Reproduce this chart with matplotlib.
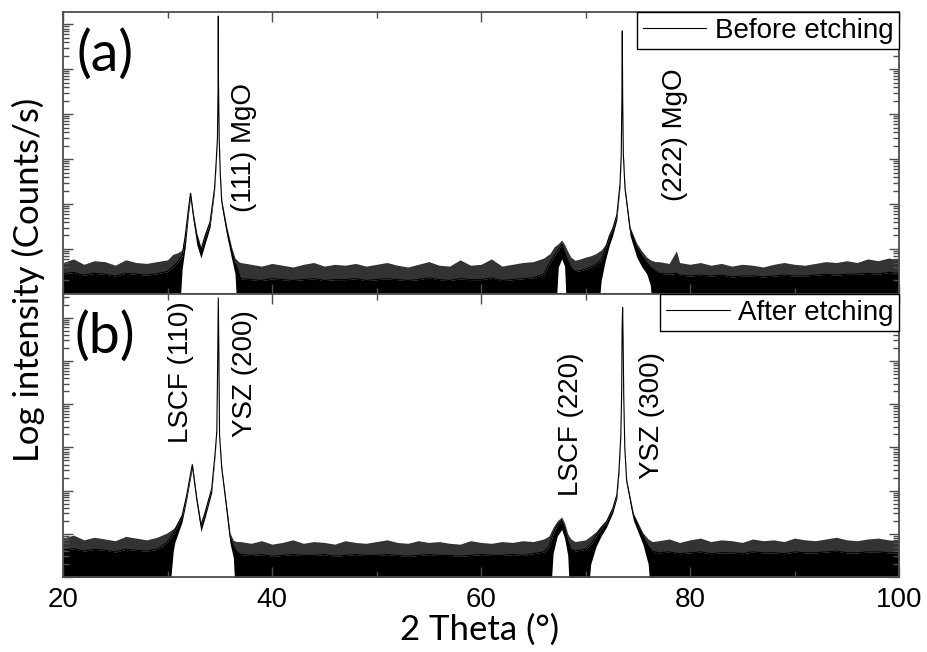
import numpy as np
import matplotlib
matplotlib.use("Agg")
import matplotlib.pyplot as plt
from matplotlib.ticker import MultipleLocator, LogLocator, NullFormatter

# values are log10(counts/s); -1 means the trace drops below the axis
# panel (a): before etching
theta_a = [20, 21, 22, 23, 24, 25, 26, 27, 28, 29, 30,
           30.5, 31.0, 31.4, 31.7, 32.0, 32.2, 32.47, 32.8, 33.2, 33.6, 34.07, 34.5,
           34.66, 34.78, 34.84, 34.86, 34.88, 34.95, 35.05, 35.19, 35.67, 36.14, 36.46, 36.8,
           37, 38, 39, 40, 41, 42, 43, 44, 45, 46, 47, 48, 49, 50, 51,
           52, 53, 54, 55, 56, 57, 58, 59, 60, 61, 62, 63, 64, 65, 66,
           66.6, 67.0, 67.4, 67.72, 68.0, 68.3, 68.6, 69, 69.5, 70, 70.5, 71.0, 71.5, 71.9, 72.3,
           72.6, 73.0, 73.3, 73.42, 73.48, 73.52, 73.56, 73.62, 73.78, 74.26, 74.9, 75.4, 75.86, 76.2, 76.65,
           77, 78, 78.7, 79, 80, 81, 82, 83, 84, 85, 86, 87, 88, 89, 90,
           91, 92, 93, 94, 95, 96, 97, 98, 99, 100]
upper_a = [.70, .78, .66, .74, .72, .64, .76, .70, .68, .72, .76,
           .88, .92, .98, 1.36, 1.93, 2.27, 1.80, 1.36, 1.05, 1.36, 1.64, 2.38,
           2.98, 3.50, 4.60, 6.20, 4.70, 3.45, 2.70, 2.09, 1.49, 1.04, .80, .72,
           .70, .66, .62, .68, .64, .60, .66, .70, .62, .66, .64, .68, .62, .66, .70,
           .64, .60, .66, .72, .64, .62, .76, .64, .66, .78, .62, .66, .70, .72, .80,
           .90, 1.05, 1.12, 1.20, 1.10, .95, .82, .75, .78, .82, .85, .90, .98, 1.10, 1.36,
           1.50, 1.80, 2.47, 3.13, 4.30, 5.87, 4.30, 3.13, 2.38, 1.49, 1.13, .95, .82, .76, .72,
           .72, .68, .96, .70, .66, .70, .64, .68, .62, .66, .64, .60, .66, .70, .66,
           .64, .68, .72, .70, .74, .70, .78, .74, .80, .76]
core_a = [.45, .48, .42, .46, .44, .40, .46, .44, .42, .45, .50,
          .60, .72, .85, 1.30, 1.88, 2.24, 1.76, 1.30, .98, 1.30, 1.60, 2.35,
          2.95, 3.48, 4.58, 6.18, 4.68, 3.42, 2.66, 2.05, 1.44, .96, .70, .50,
          .34, .32, .30, .34, .32, .30, .32, .34, .30, .32, .32, .34, .30, .32, .34,
          .32, .30, .32, .36, .32, .30, .34, .32, .32, .36, .30, .32, .34, .36, .44,
          .70, .85, .98, 1.10, .95, .75, .60, .50, .52, .55, .60, .66, .76, 1.00, 1.30,
          1.45, 1.76, 2.44, 3.10, 4.28, 5.85, 4.28, 3.10, 2.35, 1.45, 1.05, .85, .70, .60, .52,
          .46, .44, .46, .42, .40, .42, .40, .42, .38, .40, .40, .38, .40, .42, .40,
          .40, .42, .44, .42, .44, .44, .46, .44, .48, .46]
lower_a = [-1, -1, -1, -1, -1, -1, -1, -1, -1, -1, -1,
           -1, -1, .55, 1.05, 1.75, 2.15, 1.62, 1.10, .80, 1.12, 1.48, 2.28,
           2.90, 3.44, 4.55, 6.15, 4.65, 3.38, 2.60, 1.95, 1.30, .78, .45, -1,
           -1, -1, -1, -1, -1, -1, -1, -1, -1, -1, -1, -1, -1, -1, -1,
           -1, -1, -1, -1, -1, -1, -1, -1, -1, -1, -1, -1, -1, -1, -1,
           -1, -1, .60, .78, .62, -1, -1, -1, -1, -1, -1, -1, .30, .75, 1.10,
           1.30, 1.65, 2.38, 3.05, 4.25, 5.82, 4.25, 3.05, 2.25, 1.30, .82, .60, .45, .20, -1,
           -1, -1, -1, -1, -1, -1, -1, -1, -1, -1, -1, -1, -1, -1, -1,
           -1, -1, -1, -1, -1, -1, -1, -1, -1, -1]

# panel (b): after etching
theta_b = [20, 21, 22, 23, 24, 25, 26, 27, 28, 29,
           29.95, 30.55, 30.7, 31.4, 31.84, 32.37, 32.8, 33.2, 33.6, 34.23, 34.55,
           34.72, 34.8, 34.86, 34.92, 34.98, 35.19, 35.67, 35.98, 36.3, 36.6,
           37, 38, 39, 40, 41, 42, 43, 44, 45, 46, 47, 48, 49, 50, 51,
           52, 53, 54, 55, 56, 57, 58, 59, 60, 61, 62, 63, 64, 65, 66,
           66.5, 66.9, 67.3, 67.72, 68.0, 68.3, 68.6, 69, 69.5, 70, 70.5, 71.0, 71.5, 72.0, 72.6,
           73.0, 73.2, 73.38, 73.46, 73.5, 73.55, 73.6, 73.66, 73.76, 73.94, 74.57, 75.5, 76.0, 76.4,
           77, 78, 79, 80, 81, 82, 83, 84, 85, 86, 87, 88,
           89, 90, 91, 92, 93, 94, 95, 96, 97, 98, 99, 100]
upper_b = [.90, .97, .86, .92, .88, .84, .94, .90, .86, .92,
           1.02, 1.12, 1.16, 1.48, 1.94, 2.64, 1.85, 1.25, 1.55, 2.08, 2.87,
           3.40, 5.00, 6.48, 5.10, 3.30, 2.55, 1.62, 1.02, .85, .82,
           .82, .78, .84, .76, .80, .86, .78, .82, .80, .76, .84, .80, .78, .82, .86,
           .80, .78, .84, .80, .82, .78, .76, .84, .80, .78, .82, .80, .84, .82, .88,
           .95, 1.15, 1.30, 1.39, 1.25, 1.00, .88, .82, .84, .86, .95, 1.05, 1.20, 1.32, 1.62,
           1.94, 2.48, 3.30, 4.30, 5.72, 6.26, 5.50, 4.20, 3.00, 2.25, 1.48, 1.02, .88, .82,
           .84, .88, .80, .86, .90, .82, .86, .84, .80, .88, .84, .86,
           .82, .90, .86, .84, .88, .92, .86, .84, .88, .90, .86, .84]
core_b = [.62, .66, .60, .64, .62, .58, .64, .62, .60, .64,
          .80, 1.00, 1.08, 1.42, 1.90, 2.60, 1.80, 1.20, 1.50, 2.05, 2.85,
          3.38, 4.98, 6.46, 5.08, 3.28, 2.52, 1.58, .95, .72, .60,
          .52, .50, .52, .48, .50, .52, .50, .50, .52, .48, .50, .52, .50, .50, .52,
          .50, .48, .50, .52, .50, .50, .48, .50, .52, .50, .50, .52, .50, .54, .58,
          .70, 1.00, 1.20, 1.30, 1.15, .85, .65, .60, .62, .64, .75, .95, 1.12, 1.28, 1.58,
          1.90, 2.45, 3.28, 4.28, 5.70, 6.24, 5.48, 4.18, 2.98, 2.22, 1.44, .95, .72, .60,
          .56, .58, .54, .56, .58, .54, .56, .56, .54, .58, .56, .56,
          .54, .58, .56, .56, .58, .60, .56, .56, .58, .58, .56, .56]
lower_b = [-1, -1, -1, -1, -1, -1, -1, -1, -1, -1,
           -1, .60, .80, 1.28, 1.80, 2.52, 1.70, 1.05, 1.38, 1.95, 2.80,
           3.35, 4.95, 6.42, 5.05, 3.25, 2.45, 1.45, .78, .45, -1,
           -1, -1, -1, -1, -1, -1, -1, -1, -1, -1, -1, -1, -1, -1, -1,
           -1, -1, -1, -1, -1, -1, -1, -1, -1, -1, -1, -1, -1, -1, -1,
           -1, .55, .95, 1.10, .90, .50, -1, -1, -1, -1, .30, .70, .95, 1.15, 1.48,
           1.82, 2.40, 3.25, 4.25, 5.68, 6.20, 5.45, 4.15, 2.95, 2.15, 1.32, .75, .30, -1,
           -1, -1, -1, -1, -1, -1, -1, -1, -1, -1, -1, -1,
           -1, -1, -1, -1, -1, -1, -1, -1, -1, -1, -1, -1]

peaks_a = [("(111) MgO", 37.3, 0.52), ("(222) MgO", 78.6, 0.565)]
peaks_b = [("LSCF (110)", 31.3, 0.725), ("YSZ (200)", 37.4, 0.72),
           ("LSCF (220)", 68.6, 0.54), ("YSZ (300)", 76.4, 0.572)]

ARIAL = "Liberation Sans"
LABEL_FONT = "Lato"
SPINE = "0.3"

fig = plt.figure(figsize=(9.27, 6.52), dpi=100)
ax_a = fig.add_axes([63 / 927, 1 - 294 / 652, 836 / 927, 282 / 652])
ax_b = fig.add_axes([63 / 927, 1 - 577 / 652, 836 / 927, 283 / 652])


def draw_panel(ax, theta, upper, core, lower, label, tag, peaks, ytop):
    t = np.array(theta)
    up = 10.0 ** np.array(upper)
    co = 10.0 ** np.array(core)
    lo = 10.0 ** np.array(lower)
    # dense part of the noisy trace, then its fuzzy spiky top
    ax.fill_between(t, lo, co, color="k", lw=0)
    ax.fill_between(t, co, up, color="0.2", lw=0)
    ax.plot(t, co, color="k", lw=0.8, label=label)
    ax.set_yscale("log")
    ax.set_xlim(20, 100)
    ax.set_ylim(1, 10 ** ytop)
    ax.xaxis.set_major_locator(MultipleLocator(20))
    ax.xaxis.set_minor_locator(MultipleLocator(10))
    ax.yaxis.set_major_locator(LogLocator(base=10, numticks=20))
    ax.yaxis.set_minor_locator(LogLocator(base=10, subs=np.arange(2, 10), numticks=20))
    ax.yaxis.set_minor_formatter(NullFormatter())
    ax.tick_params(which="both", direction="in", top=True, right=True,
                   labelleft=False, color=SPINE, width=1)
    ax.tick_params(which="major", length=7)
    ax.tick_params(which="minor", length=4)
    for s in ax.spines.values():
        s.set_color(SPINE)
        s.set_linewidth(1.3)
    leg = ax.legend(loc="upper right", borderaxespad=0, fancybox=False,
                    edgecolor="k", framealpha=1, handlelength=2.3,
                    handletextpad=0.3, borderpad=0.2,
                    prop={"family": ARIAL, "size": 20})
    leg.get_frame().set_linewidth(1.0)
    ax.text(0.05, 0.85, tag, transform=ax.transAxes, ha="center", va="center",
            fontsize=40, family=LABEL_FONT)
    tr = ax.get_xaxis_transform()
    for txt, x, y in peaks:
        ax.text(x, y, txt, transform=tr, rotation=90, ha="center", va="center",
                fontsize=20, family=ARIAL)


draw_panel(ax_a, theta_a, upper_a, core_a, lower_a, "Before etching", "(a)", peaks_a, 6.27)
draw_panel(ax_b, theta_b, upper_b, core_b, lower_b, "After etching", "(b)", peaks_b, 6.55)

ax_a.tick_params(labelbottom=False)
ax_b.tick_params(axis="x", labelsize=20, pad=7)
for lab in ax_b.get_xticklabels():
    lab.set_family(ARIAL)

fig.text(480 / 927, 1 - 630 / 652, "2 Theta (\u00b0)", ha="center", va="center",
         fontsize=25, family=LABEL_FONT)
fig.text(28 / 927, 1 - 280 / 652, "Log intensity (Counts/s)", ha="center", va="center",
         rotation=90, fontsize=25, family=LABEL_FONT)

fig.savefig("out.png", dpi=100)
